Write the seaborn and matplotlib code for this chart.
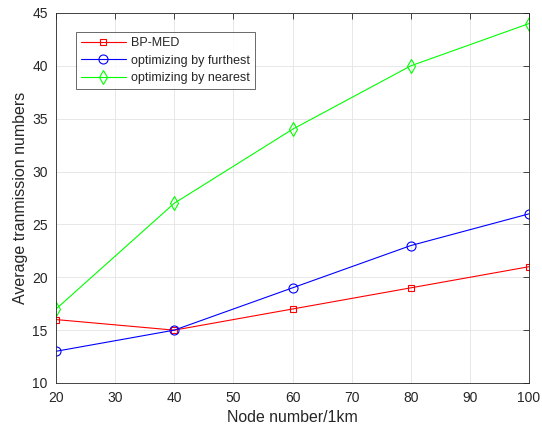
import matplotlib
matplotlib.use("Agg")
import matplotlib.pyplot as plt
import seaborn as sns
import pandas as pd

nodes = [20, 40, 60, 80, 100]
bp_med = [16, 15, 17, 19, 21]
furthest = [13, 15, 19, 23, 26]
nearest = [17, 27, 34, 40, 44]
labels = ["BP-MED", "optimizing by furthest", "optimizing by nearest"]

sns.set_style("white")
plt.rcParams['font.family'] = ['Liberation Sans', 'DejaVu Sans']

df = pd.DataFrame({
    "x": nodes * 3,
    "y": bp_med + furthest + nearest,
    "series": [labels[0]] * 5 + [labels[1]] * 5 + [labels[2]] * 5,
})

fig = plt.figure(figsize=(5.42, 4.29), dpi=100)
ax = fig.add_axes([56 / 542, 46 / 429, 473 / 542, 370 / 429])

colors = {labels[0]: "#ff0000", labels[1]: "#0000ff", labels[2]: "#00ff00"}
markers = {labels[0]: "s", labels[1]: "o", labels[2]: "d"}
msizes = {labels[0]: 5, labels[1]: 6.5, labels[2]: 7}
for lab in labels:
    sub = df[df.series == lab]
    sns.lineplot(data=sub, x="x", y="y", ax=ax, color=colors[lab], marker=markers[lab],
                 markersize=msizes[lab], markerfacecolor="none",
                 markeredgecolor=colors[lab], markeredgewidth=0.8, linewidth=0.8,
                 label=lab)

ax.set_xlim(20, 100)
ax.set_ylim(10, 45)
ax.set_xticks(range(20, 101, 10))
ax.set_yticks(range(10, 46, 5))
ax.grid(True, color="#e3e3e3", linewidth=0.6)
ax.tick_params(direction="in", length=4, width=0.6, labelsize=10, colors="#262626",
               top=True, right=True, pad=6)
for s in ax.spines.values():
    s.set_color("#262626")
    s.set_linewidth(0.6)
ax.set_xlabel("Node number/1km", fontsize=11.4, color="#262626", labelpad=3)
ax.set_ylabel("Average tranmission numbers", fontsize=11.5, color="#262626", labelpad=3)

leg = ax.legend(loc="upper left", bbox_to_anchor=(0.042, 0.948), fontsize=9, frameon=True,
                fancybox=False, edgecolor="#262626", handlelength=3.6, borderpad=0.4,
                labelspacing=0.45, handletextpad=0.4, borderaxespad=0)
leg.get_frame().set_linewidth(0.6)
for h, lab in zip(leg.get_lines(), labels):
    h.set_color(colors[lab])
    h.set_markeredgecolor(colors[lab])

fig.savefig("out.png", dpi=100)
